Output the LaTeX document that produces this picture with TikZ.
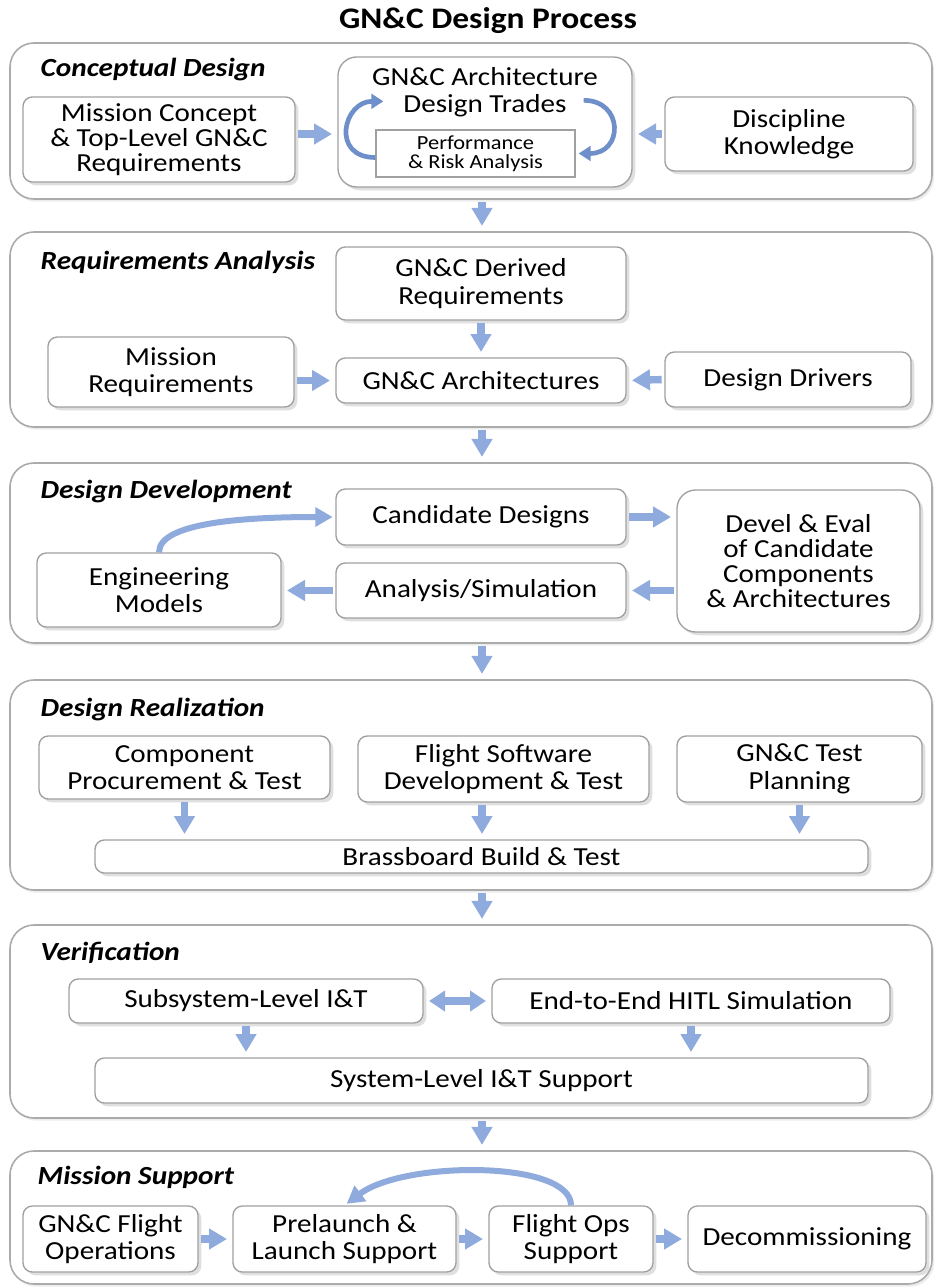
\documentclass[tikz,border=0pt]{standalone}
\usepackage{fontspec}
\setmainfont[FakeStretch=1.12]{Carlito}
\usetikzlibrary{arrows.meta,shadows,calc}

\definecolor{flowblue}{HTML}{8FAADC}
\definecolor{turnblue}{HTML}{6F8FCB}
\definecolor{boxline}{HTML}{A0A0A0}
\definecolor{stageline}{HTML}{ABABAB}

\tikzset{
  stage/.style 2 args={draw=stageline, line width=1.2pt, fill=white, rounded corners=18pt,
    minimum width=#1*0.75pt, minimum height=#2*0.75pt, inner sep=0pt,
    drop shadow={shadow xshift=1.5pt, shadow yshift=-2pt, opacity=0.15}},
  box/.style 2 args={draw=boxline, line width=1pt, fill=white, rounded corners=7pt, align=center,
    minimum width=#1*0.75pt, minimum height=#2*0.75pt, inner sep=0pt,
    drop shadow={shadow xshift=2.5pt, shadow yshift=-2.5pt, opacity=0.25}},
  stagename/.style={anchor=west, font=\fontsize{19.6}{21}\selectfont\bfseries\itshape},
  headline/.style={font=\fontsize{22.4}{25}\selectfont\bfseries},
  flow/.style={draw=flowblue, line width=5.5pt, -{Triangle[width=15pt,length=13.5pt]},
    shorten <=2pt, shorten >=4pt},
  flowboth/.style={draw=flowblue, line width=5.5pt,
    {Triangle[width=15pt,length=12pt]}-{Triangle[width=15pt,length=12pt]},
    shorten <=4pt, shorten >=4pt},
  loopback/.style={draw=flowblue, line width=4.5pt, -{Triangle[width=14pt,length=13pt]},
    shorten >=2pt},
  turnarrow/.style={draw=turnblue, line width=3.5pt, -{Triangle[width=11pt,length=9pt]}}
}

\begin{document}
\begin{tikzpicture}[x=0.75pt,y=-0.75pt, font=\fontsize{19.5}{20.5}\selectfont]
\useasboundingbox (0,0) rectangle (938,1287);
\coordinate (spine) at (482,0);

\node[headline] (title) at (488,21) {GN\&C Design Process};

% stage frames
\node[stage={922}{156}] (sec1) at (471,121) {};
\node[stage={922}{195}] (sec2) at (471,329.5) {};
\node[stage={922}{180}] (sec3) at (471,553) {};
\node[stage={922}{210}] (sec4) at (471,785) {};
\node[stage={922}{193}] (sec5) at (471,1021.5) {};
\node[stage={922}{133}] (sec6) at (471,1217.5) {};

\node[stagename] (name1) at (36,70) {Conceptual Design};
\node[stagename] (name2) at (36,262) {Requirements Analysis};
\node[stagename] (name3) at (36,492) {Design Development};
\node[stagename] (name4) at (36,710) {Design Realization};
\node[stagename] (name5) at (36,953) {Verification};
\node[stagename] (name6) at (33,1177) {Mission Support};

% between stages
\draw[flow] (sec1.south -| spine) -- (sec2.north -| spine);
\draw[flow] (sec2.south -| spine) -- (sec3.north -| spine);
\draw[flow] (sec3.south -| spine) -- (sec4.north -| spine);
\draw[flow] (sec4.south -| spine) -- (sec5.north -| spine);
\draw[flow] (sec5.south -| spine) -- (sec6.north -| spine);

% conceptual design
\node[box={272}{85}, font=\fontsize{19.5}{18.75}\selectfont] (mc) at (159,139.5)
  {Mission Concept\\\& Top-Level GN\&C\\Requirements};
\node[box={294}{130}, rounded corners=14pt] (arch) at (485,122) {};
\node (archtxt) at (485,92) [align=center] {GN\&C Architecture\\Design Trades};
\node[draw=boxline, line width=1pt, fill=white, minimum width=149.25pt, minimum height=35.25pt,
  align=center, inner sep=0pt, font=\fontsize{15}{14.25}\selectfont] (perf) at (475.5,153.5)
  {Performance\\\& Risk Analysis};
\node[box={248}{74}] (disc) at (789,134) {Discipline\\Knowledge};
\draw[turnarrow] ($(perf.west)+(0,4)$) .. controls +(-45,0) and +(-40,0) .. ($(perf.north west)+(8,-28)$);
\draw[turnarrow] ($(perf.north east)+(8,-29)$) .. controls +(40,0) and +(45,0) .. ($(perf.east)+(3,0)$);
\draw[flow] (mc.east |- disc.west) -- (arch.west |- disc.west);
\draw[flow] (disc.west) -- (disc.west -| arch.east);

% requirements analysis
\node[box={290}{73}] (derived) at (481,283.5) {GN\&C Derived\\Requirements};
\node[box={290}{45}] (archs) at (481,380.5) {GN\&C Architectures};
\node[box={246}{70}] (mreq) at (171,372) {Mission\\Requirements};
\node[box={246}{55}] (drivers) at (788,379.5) {Design Drivers};
\draw[flow] (derived) -- (archs);
\draw[flow] (mreq.east |- archs.west) -- (archs.west);
\draw[flow] (drivers.west) -- (archs.east);

% design development
\node[box={290}{56}] (cand) at (481,517) {Candidate Designs};
\node[box={243}{142}, rounded corners=14pt, font=\fontsize{19.5}{18.75}\selectfont] (devel) at (798.5,561)
  {Devel \& Eval\\of Candidate\\Components\\\& Architectures};
\node[box={290}{55}] (anal) at (481,590.5) {Analysis/Simulation};
\node[box={244}{74}] (eng) at (159,590) {Engineering\\Models};
\draw[flow] (cand.east) -- (cand.east -| devel.west);
\draw[flow] (devel.west |- anal.east) -- (anal.east);
\draw[flow] (anal.west) -- (anal.west -| eng.east);
\draw[loopback] (eng.north) .. controls +(0,-30) and +(-90,0) .. (cand.west);

% design realization
\node[box={291}{63}] (comp) at (184.5,767.5) {Component\\Procurement \& Test};
\node[box={291}{66}] (fsw) at (503.5,769) {Flight Software\\Development \& Test};
\node[box={245}{66}] (plan) at (799.5,769) {GN\&C Test\\Planning};
\node[box={773}{33}] (brass) at (481.5,856.5) {Brassboard Build \& Test};
\draw[flow] (comp.south) -- (brass.north -| comp.south);
\draw[flow] (fsw.south -| spine) -- (brass.north -| spine);
\draw[flow] (plan.south) -- (brass.north -| plan.south);

% verification
\node[box={354}{44}] (subsys) at (246,1001) {Subsystem-Level I\&T};
\node[box={398}{44}] (hitl) at (691,1001) {End-to-End HITL Simulation};
\node[box={773}{45}] (sysit) at (481.5,1080.5) {System-Level I\&T Support};
\draw[flowboth] (subsys.east) -- (hitl.west);
\draw[flow] (subsys.south) -- (sysit.north -| subsys.south);
\draw[flow] (hitl.south) -- (sysit.north -| hitl.south);

% mission support
\node[box={175}{66}] (gfo) at (110.5,1239) {GN\&C Flight\\Operations};
\node[box={223}{66}] (prel) at (344.5,1239) {Prelaunch \&\\Launch Support};
\node[box={164}{66}] (fops) at (571,1239) {Flight Ops\\Support};
\node[box={238}{66}] (decom) at (807,1239) {Decommissioning};
\draw[flow] (gfo.east) -- (prel.west);
\draw[flow] (prel.east) -- (fops.west);
\draw[flow] (fops.east) -- (decom.west);
\draw[loopback] (fops.north) .. controls +(0,-45) and +(60,-45) .. (prel.north);
\end{tikzpicture}
\end{document}
